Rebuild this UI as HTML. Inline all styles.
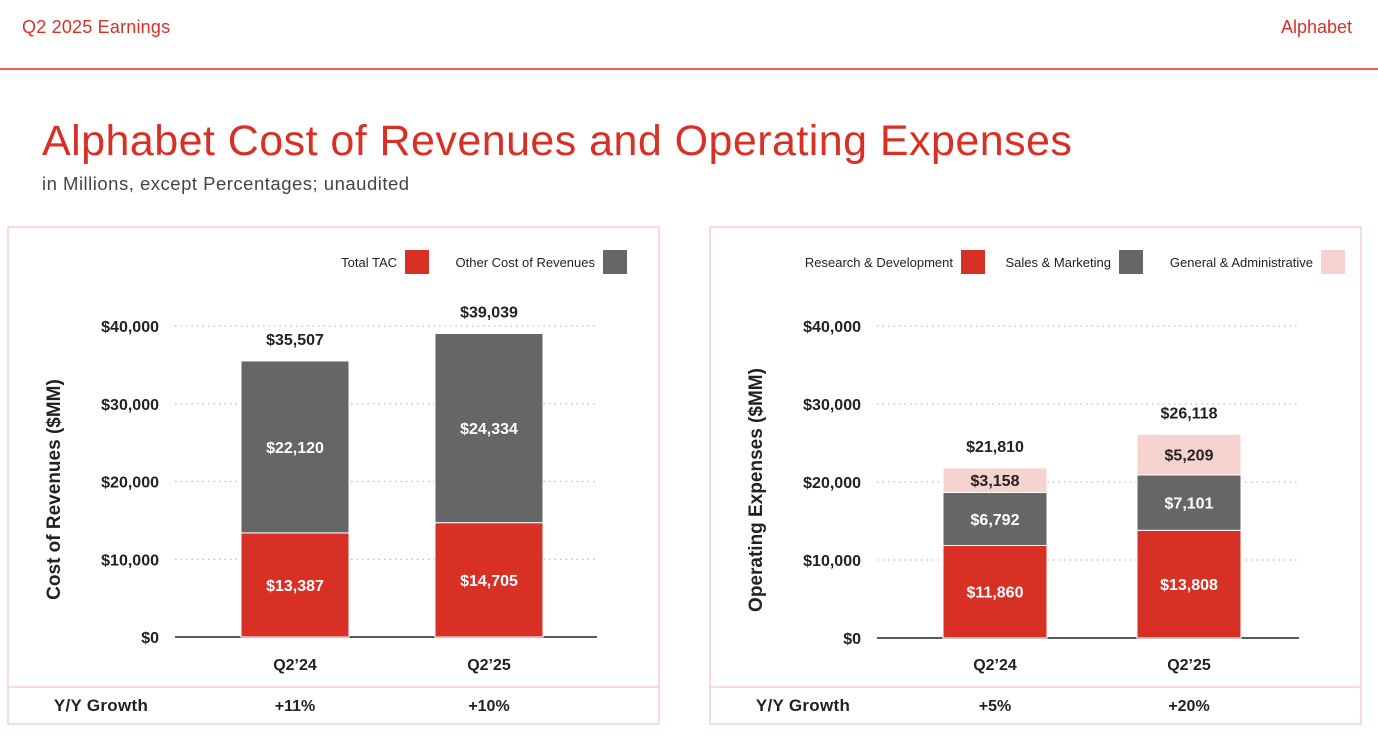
<!DOCTYPE html>
<html><head><meta charset="utf-8"><style>
body{margin:0;width:1378px;height:746px;background:#fff;overflow:hidden;font-family:"Liberation Sans",sans-serif}
svg text{font-family:"Liberation Sans",sans-serif}
</style></head><body>
<svg id="s" width="1378" height="746" xmlns="http://www.w3.org/2000/svg">
<text x="22" y="33" font-size="18" fill="#d93025" letter-spacing="0.2">Q2 2025 Earnings</text>
<text x="1352" y="33" font-size="18" fill="#d93025" text-anchor="end">Alphabet</text>
<line x1="0" y1="69" x2="1378" y2="69" stroke="#d93025" stroke-width="1.5"/>
<text x="42" y="155" font-size="43" fill="#d93025" letter-spacing="0.45">Alphabet Cost of Revenues and Operating Expenses</text>
<text x="42" y="190" font-size="18.5" fill="#444" letter-spacing="0.5">in Millions, except Percentages; unaudited</text>
<g id="g"></g>
</svg>
<script>
const categories = ["Q2\u201924","Q2\u201925"];
const tacValues = [13387,14705];
const otherCorValues = [22120,24334];
const corTotals = [35507,39039];
const corGrowth = ["+11%","+10%"];
const rdValues = [11860,13808];
const smValues = [6792,7101];
const gaValues = [3158,5209];
const opexTotals = [21810,26118];
const opexGrowth = ["+5%","+20%"];
const yTicks = [0,10000,20000,30000,40000];

const NS="http://www.w3.org/2000/svg";
const g=document.getElementById('g');
function mk(t,a,txt){const e=document.createElementNS(NS,t);for(const k in a)e.setAttribute(k,a[k]);if(txt!==undefined)e.textContent=txt;g.appendChild(e);return e;}
function fmt(v){return "$"+v.toLocaleString("en-US");}

function chart(o){
  const y=v=>o.y0-v*(o.y0-o.y40)/40000;
  let e=mk('rect',{x:o.px,y:227,width:651,height:497,fill:'none',stroke:'#f6d0cc','stroke-width':1.5});
  
  e=mk('line',{x1:o.px,y1:687,x2:o.px+651,y2:687,stroke:'#f6d0cc','stroke-width':1.5});
  
  yTicks.forEach(t=>{
    if(t>0){e=mk('line',{x1:o.ax0,y1:y(t),x2:o.ax1,y2:y(t),stroke:'#bbb','stroke-dasharray':'1.5 4','stroke-width':1.2});
      }
    e=mk('text',{x:o.ax0-16,y:y(t)+6,'font-size':16,'font-weight':'bold','text-anchor':'end',fill:'#222'},fmt(t));
    
  });
  e=mk('line',{x1:o.ax0,y1:o.y0,x2:o.ax1,y2:o.y0,stroke:'#222','stroke-width':1.5});
  
  const cy=(o.y0+o.y40)/2+8;
  e=mk('text',{x:o.titleX,y:cy,'font-size':19,'font-weight':'bold','text-anchor':'middle',fill:'#222',transform:`rotate(-90 ${o.titleX} ${cy})`},o.yTitle);
  
  categories.forEach((c,i)=>{
    const bx=o.bx[i];let base=0;
    o.series.forEach(s=>{
      const v=s.vals[i];const top=y(base+v),bot=y(base);
      e=mk('rect',{x:bx,y:top,width:o.bw,height:bot-top,fill:s.color,stroke:'#fff','stroke-width':1});
      
      e=mk('text',{x:bx+o.bw/2,y:(top+bot)/2+6,'font-size':16,'font-weight':'bold','text-anchor':'middle',fill:s.tc},fmt(v));
      
      base+=v;
    });
    e=mk('text',{x:bx+o.bw/2,y:y(o.totals[i])-16,'font-size':16,'font-weight':'bold','text-anchor':'middle',fill:'#222'},fmt(o.totals[i]));
    
    e=mk('text',{x:bx+o.bw/2,y:670,'font-size':16,'font-weight':'bold','text-anchor':'middle',fill:'#222'},c);
    
    e=mk('text',{x:bx+o.bw/2,y:711,'font-size':16,'font-weight':'bold','text-anchor':'middle',fill:'#222'},o.growth[i]);
    
  });
  e=mk('text',{x:o.px+93,y:711,'font-size':17,'font-weight':'bold','text-anchor':'middle',fill:'#222','letter-spacing':0.3},'Y/Y Growth');
  
  o.legend.forEach(l=>{
    e=mk('text',{x:l.x-8,y:267,'font-size':13,'text-anchor':'end',fill:'#222'},l.label);
    
    e=mk('rect',{x:l.x,y:250,width:24,height:24,fill:l.color});
    
  });
}
chart({name:'cost-of-revenues',px:8,ax0:175,ax1:597,y0:637,y40:326,bx:[241,435],bw:108,titleX:60,
  yTitle:'Cost of Revenues ($MM)',totals:corTotals,growth:corGrowth,
  series:[{key:'tac',vals:tacValues,color:'#d93025',tc:'#fff'},{key:'other-cor',vals:otherCorValues,color:'#666666',tc:'#fff'}],
  legend:[{x:405,label:'Total TAC',color:'#d93025'},{x:603,label:'Other Cost of Revenues',color:'#666666'}]});
chart({name:'operating-expenses',px:710,ax0:877,ax1:1299,y0:638,y40:326,bx:[943,1137],bw:104,titleX:762,
  yTitle:'Operating Expenses ($MM)',totals:opexTotals,growth:opexGrowth,
  series:[{key:'rd',vals:rdValues,color:'#d93025',tc:'#fff'},{key:'sm',vals:smValues,color:'#666666',tc:'#fff'},{key:'ga',vals:gaValues,color:'#f6d3cf',tc:'#222'}],
  legend:[{x:961,label:'Research & Development',color:'#d93025'},{x:1119,label:'Sales & Marketing',color:'#666666'},{x:1321,label:'General & Administrative',color:'#f6d3cf'}]});
</script>
</body></html>
